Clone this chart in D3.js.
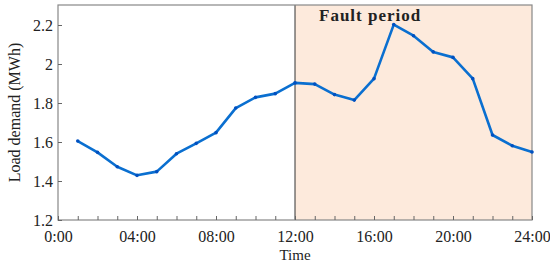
<!DOCTYPE html>
<html><head><meta charset="utf-8">
<script src="https://cdn.jsdelivr.net/npm/d3@7"></script>
<style>body{margin:0;background:#fff}svg{display:block}</style>
</head><body>
<script>
const hours = [1,2,3,4,5,6,7,8,9,10,11,12,13,14,15,16,17,18,19,20,21,22,23,24];
const load = [1.605,1.547,1.473,1.429,1.448,1.540,1.593,1.648,1.774,1.829,1.848,1.903,1.897,1.843,1.815,1.925,2.202,2.145,2.062,2.034,1.925,1.636,1.581,1.549];
const yTicks = [1.2,1.4,1.6,1.8,2,2.2];
const xTicks = [0,4,8,12,16,20,24];
const xTickLabels = ["0:00","04:00","08:00","12:00","16:00","20:00","24:00"];
const faultRange = [12,24];

const W=550,H=264;
const m={l:58,r:18,t:5,b:44};
const svg=d3.select("body").append("svg").attr("width",W).attr("height",H);
const x=d3.scaleLinear().domain([0,24]).range([m.l,W-m.r]);
const y=d3.scaleLinear().domain([1.2,2.3026]).range([H-m.b,m.t]);
const font="'Liberation Serif','Times New Roman',serif";
const fs=16;

svg.append("rect").attr("x",x(faultRange[0])).attr("y",m.t)
  .attr("width",x(faultRange[1])-x(faultRange[0])).attr("height",y(1.2)-m.t)
  .attr("fill","#fdeadc");
svg.append("line").attr("x1",x(faultRange[0])).attr("x2",x(faultRange[0]))
  .attr("y1",m.t).attr("y2",y(1.2)).attr("stroke","#333").attr("stroke-width",1);

svg.append("rect").attr("x",m.l).attr("y",m.t).attr("width",x(24)-m.l).attr("height",y(1.2)-m.t)
  .attr("fill","none").attr("stroke","#888").attr("stroke-width",1.2);

const xa=svg.append("g").attr("transform",`translate(0,${y(1.2)})`)
  .call(d3.axisBottom(x).tickValues(d3.range(0,25)).tickSizeInner(-4).tickSizeOuter(0)
    .tickFormat(d=>{const i=xTicks.indexOf(d);return i>=0?xTickLabels[i]:"";}));
xa.select(".domain").remove();
xa.selectAll("line").attr("stroke","#666");
xa.selectAll("text").attr("font-family",font).attr("font-size",fs).attr("fill","#222").attr("dy",0).attr("y",22);

const ya=svg.append("g").attr("transform",`translate(${m.l},0)`)
  .call(d3.axisLeft(y).tickValues(yTicks).tickSizeInner(-4).tickSizeOuter(0).tickFormat(d=>d3.format("")(d)));
ya.select(".domain").remove();
ya.selectAll("line").attr("stroke","#666");
ya.selectAll("text").attr("font-family",font).attr("font-size",fs).attr("fill","#222").attr("x",-5).attr("dy","0.35em");

svg.append("text").attr("x",(m.l+x(24))/2).attr("y",260).attr("text-anchor","middle")
  .attr("font-family",font).attr("font-size",15).attr("fill","#222").text("Time");
svg.append("text").attr("transform",`translate(20,${(m.t+y(1.2))/2}) rotate(-90)`).attr("text-anchor","middle")
  .attr("font-family",font).attr("font-size",fs).attr("fill","#222").text("Load demand (MWh)");

svg.append("text").attr("x",319).attr("y",21).attr("font-family",font).attr("font-weight","bold")
  .attr("font-size",17).attr("letter-spacing",1).attr("fill","#222").text("Fault period");

const line=d3.line().x((d,i)=>x(hours[i])).y(d=>y(d));
svg.append("path").datum(load).attr("d",line).attr("fill","none").attr("stroke","#0a6fd0")
  .attr("stroke-width",2.6).attr("stroke-linejoin","round");
svg.selectAll("circle.pt").data(load).join("circle").attr("class","pt")
  .attr("cx",(d,i)=>x(hours[i])).attr("cy",d=>y(d)).attr("r",1.8).attr("fill","#0050c0");
</script>
</body></html>
